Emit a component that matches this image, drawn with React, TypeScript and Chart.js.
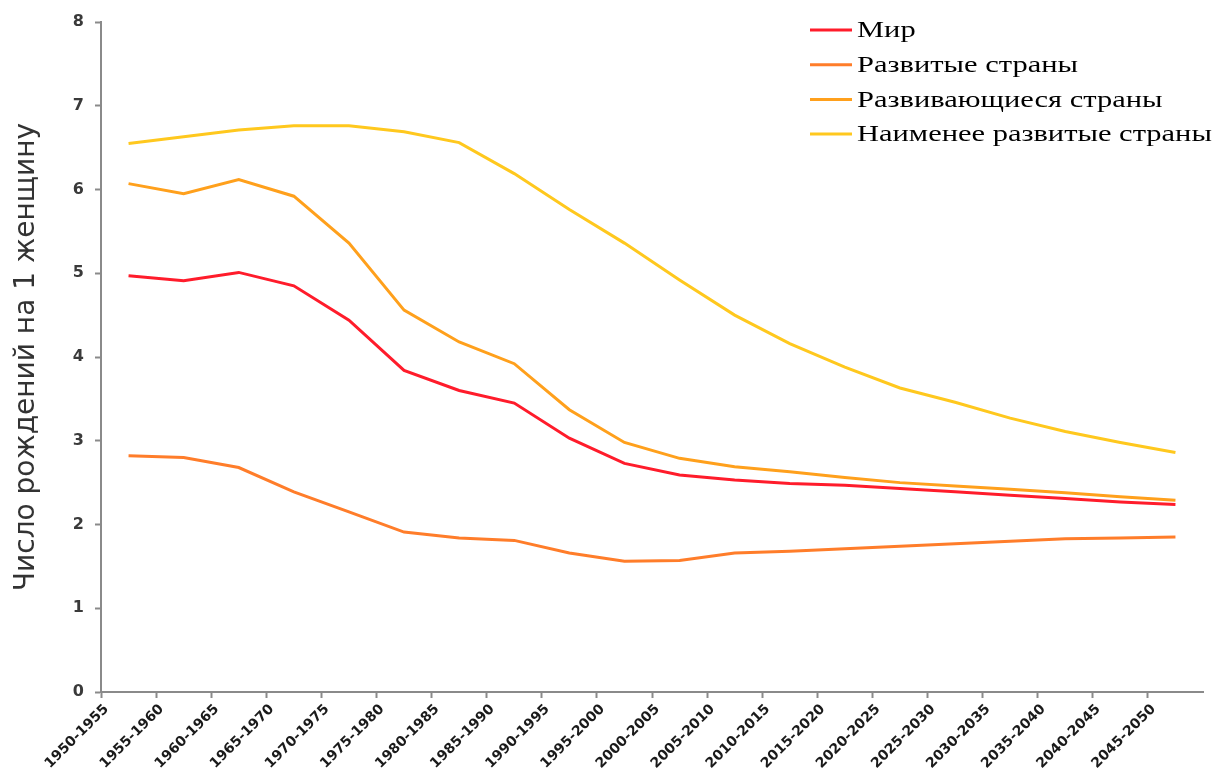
import React, { useEffect, useRef } from 'react';
import { Chart, registerables } from 'chart.js';

Chart.register(...registerables);

const periods = [
  '1950-1955', '1955-1960', '1960-1965', '1965-1970', '1970-1975',
  '1975-1980', '1980-1985', '1985-1990', '1990-1995', '1995-2000',
  '2000-2005', '2005-2010', '2010-2015', '2015-2020', '2020-2025',
  '2025-2030', '2030-2035', '2035-2040', '2040-2045', '2045-2050',
];

const world = [4.97, 4.91, 5.01, 4.85, 4.44, 3.84, 3.60, 3.45, 3.03, 2.73, 2.59, 2.53, 2.49, 2.47, 2.43, 2.39, 2.35, 2.31, 2.27, 2.24];
const developed = [2.82, 2.80, 2.68, 2.39, 2.15, 1.91, 1.84, 1.81, 1.66, 1.56, 1.57, 1.66, 1.68, 1.71, 1.74, 1.77, 1.80, 1.83, 1.84, 1.85];
const developing = [6.07, 5.95, 6.12, 5.92, 5.36, 4.56, 4.18, 3.92, 3.37, 2.98, 2.79, 2.69, 2.63, 2.56, 2.50, 2.46, 2.42, 2.38, 2.33, 2.29];
const leastDeveloped = [6.55, 6.63, 6.71, 6.76, 6.76, 6.69, 6.56, 6.19, 5.76, 5.36, 4.92, 4.50, 4.16, 3.88, 3.63, 3.46, 3.27, 3.11, 2.98, 2.86];

const seriesNames = ['Мир', 'Развитые страны', 'Развивающиеся страны', 'Наименее развитые страны'];
const seriesColors = ['#FF1C2B', '#FF7D2A', '#FFA01C', '#FFC81E'];
const yAxisTitle = 'Число рождений на 1 женщину';

const cornerLegend = {
  id: 'cornerLegend',
  afterDraw(chart: any) {
    const ctx = chart.ctx;
    ctx.save();
    ctx.font = '24px "Liberation Serif", "Times New Roman", serif';
    ctx.textBaseline = 'middle';
    ctx.textAlign = 'left';
    chart.data.datasets.forEach((ds: any, i: number) => {
      const y = 30 + i * 34.7;
      ctx.strokeStyle = ds.borderColor;
      ctx.lineWidth = 3;
      ctx.beginPath();
      ctx.moveTo(810, y);
      ctx.lineTo(852, y);
      ctx.stroke();
      ctx.save();
      ctx.translate(857, y);
      ctx.scale(1.27, 1);
      ctx.fillStyle = '#000';
      ctx.fillText(ds.label, 0, 1);
      ctx.restore();
    });
    ctx.restore();
  },
};

export default function App() {
  const canvasRef = useRef<HTMLCanvasElement | null>(null);

  useEffect(() => {
    if (!canvasRef.current) return;
    const seriesData = [world, developed, developing, leastDeveloped];
    const chart = new Chart(canvasRef.current, {
      type: 'line',
      data: {
        labels: periods,
        datasets: seriesData.map((d, i) => ({
          label: seriesNames[i],
          data: d,
          borderColor: seriesColors[i],
          backgroundColor: seriesColors[i],
          borderWidth: 3,
          pointRadius: 0,
          tension: 0,
          fill: false,
        })),
      },
      options: {
        responsive: false,
        animation: false,
        layout: { padding: { top: 22, right: 14, left: 0, bottom: 0 } },
        plugins: {
          legend: { display: false },
          tooltip: { enabled: false },
        },
        scales: {
          x: {
            type: 'category',
            offset: true,
            grid: {
              offset: true,
              drawOnChartArea: false,
              tickLength: 6,
              tickWidth: 2,
              tickColor: (c: any) => (c.type === 'tick' ? '#8a8a8a' : 'rgba(0,0,0,0)'),
            },
            border: { color: '#8a8a8a', width: 2 },
            ticks: {
              autoSkip: false,
              minRotation: 45,
              maxRotation: 45,
              labelOffset: -22,
              padding: 3,
              color: '#1a1a1a',
              font: { family: '"DejaVu Sans", sans-serif', size: 14, weight: 'bold' },
            },
            afterFit: (s: any) => { s.height = 79; },
          },
          y: {
            min: 0,
            max: 8,
            grid: {
              drawOnChartArea: false,
              tickLength: 6,
              tickWidth: 2,
              color: '#8a8a8a',
            },
            border: { color: '#8a8a8a', width: 2 },
            ticks: {
              stepSize: 1,
              padding: 11,
              color: '#3a3a3a',
              font: { family: '"DejaVu Sans", sans-serif', size: 16, weight: 'bold' },
            },
            title: {
              display: true,
              text: yAxisTitle,
              color: '#333',
              padding: { top: 10, bottom: 0 },
              font: { family: '"DejaVu Sans", sans-serif', size: 28 },
            },
            afterFit: (s: any) => { s.width = 101; },
          },
        },
      },
      plugins: [cornerLegend],
    });
    return () => chart.destroy();
  }, []);

  return (
    <div style={{ position: 'absolute', left: 0, top: 0, width: 1217, height: 771, background: '#fff' }}>
      <canvas ref={canvasRef} width={1217} height={771} />
    </div>
  );
}
